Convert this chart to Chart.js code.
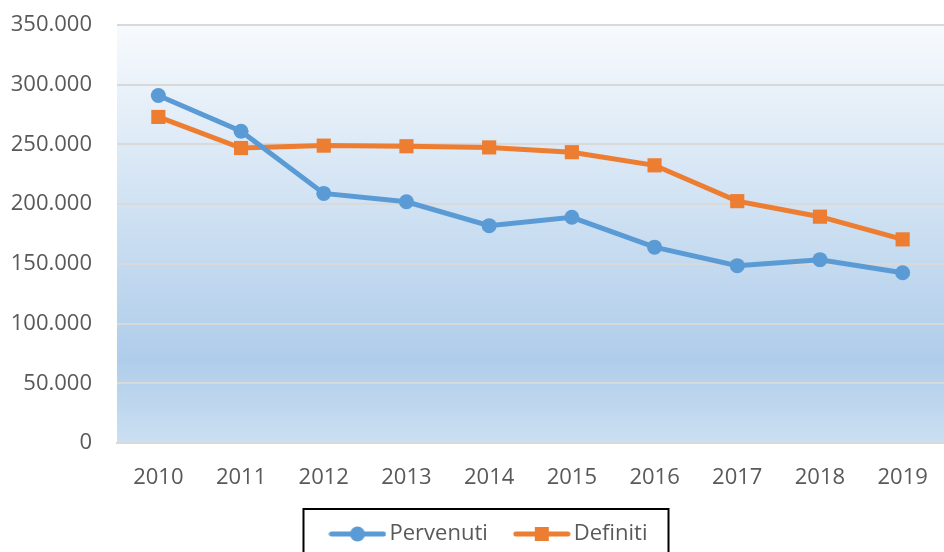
<!DOCTYPE html>
<html>
<head>
<meta charset="utf-8">
<script src="https://cdn.jsdelivr.net/npm/chart.js@4/dist/chart.umd.min.js"></script>
<style>
  html, body { margin: 0; padding: 0; background: #fff; overflow: hidden; }
  canvas { display: block; }
</style>
</head>
<body>
<canvas id="lineChart" width="944" height="552"></canvas>
<script>
// Dati
const anni = ['2010', '2011', '2012', '2013', '2014', '2015', '2016', '2017', '2018', '2019'];
const pervenuti = [291000, 261000, 209000, 202000, 182000, 189000, 164000, 148500, 153500, 142500];
const definiti = [273000, 247000, 249000, 248500, 247500, 243500, 232500, 202500, 189500, 170500];

const BLU = '#5b9bd5';
const ARANCIO = '#ed7d31';
const GRIGIO = '#595959';

// Simbolo legenda: linea + marcatore
function simbolo(colore, forma) {
    const c = document.createElement('canvas');
    c.width = 58;
    c.height = 18;
    const g = c.getContext('2d');
    g.strokeStyle = colore;
    g.lineWidth = 5;
    g.lineCap = 'round';
    g.beginPath();
    g.moveTo(3, 9);
    g.lineTo(55, 9);
    g.stroke();
    g.fillStyle = colore;
    if (forma === 'circle') {
        g.beginPath();
        g.arc(29, 9, 7.5, 0, Math.PI * 2);
        g.fill();
    } else {
        g.fillRect(22, 2, 14, 14);
    }
    return c;
}

// Sfondo sfumato dell'area del grafico
const sfondo = {
    id: 'sfondo',
    afterLayout(chart) {
        // sposta la legenda un po' a destra, come nell'originale
        chart.legend.left += 40;
    },
    beforeDraw(chart) {
        const { ctx, chartArea: a } = chart;
        const grad = ctx.createLinearGradient(0, a.top, 0, a.bottom);
        grad.addColorStop(0, '#f7fafd');
        grad.addColorStop(0.8, '#afcdea');
        grad.addColorStop(1, '#cbdff2');
        ctx.save();
        ctx.fillStyle = grad;
        ctx.fillRect(a.left, a.top, a.right - a.left, a.bottom - a.top);
        ctx.restore();
    }
};

// Cornice attorno alla legenda
const cornice = {
    id: 'cornice',
    afterDraw(chart) {
        const boxes = chart.legend.legendHitBoxes;
        if (!boxes || !boxes.length) return;
        const left = Math.min(...boxes.map(b => b.left));
        const right = Math.max(...boxes.map(b => b.left + b.width));
        const top = Math.min(...boxes.map(b => b.top));
        const ctx = chart.ctx;
        ctx.save();
        ctx.strokeStyle = '#000';
        ctx.lineWidth = 2;
        ctx.strokeRect(left - 33, top - 14, right - left + 54, 80);
        ctx.restore();
    }
};

function senzaPadding(scale) {
    scale.paddingLeft = 0;
    scale.paddingRight = 0;
    scale.paddingTop = 0;
    scale.paddingBottom = 0;
}

const ctx = document.getElementById('lineChart').getContext('2d');
new Chart(ctx, {
    type: 'line',
    data: {
        labels: anni,
        datasets: [{
            label: 'Pervenuti',
            data: pervenuti,
            borderColor: BLU,
            backgroundColor: BLU,
            borderWidth: 5,
            pointStyle: 'circle',
            pointRadius: 7.5,
            pointBorderWidth: 0,
            tension: 0
        }, {
            label: 'Definiti',
            data: definiti,
            borderColor: ARANCIO,
            backgroundColor: ARANCIO,
            borderWidth: 5,
            pointStyle: 'rect',
            pointRadius: 10,
            pointBorderWidth: 0,
            tension: 0
        }]
    },
    options: {
        responsive: false,
        maintainAspectRatio: false,
        animation: false,
        layout: { autoPadding: false, padding: { top: 25, right: 0, left: 0, bottom: -3 } },
        scales: {
            x: {
                offset: true,
                grid: { display: false, drawTicks: false },
                border: { display: true, color: '#d9d9d9', width: 2 },
                ticks: {
                    color: GRIGIO,
                    font: { family: 'Open Sans', size: 22 },
                    padding: 22,
                    maxRotation: 0
                },
                afterFit(scale) {
                    scale.height = 47;
                    senzaPadding(scale);
                }
            },
            y: {
                min: 0,
                max: 350000,
                grid: { color: '#d9d9d9', lineWidth: 2, drawTicks: false },
                border: { display: false },
                ticks: {
                    stepSize: 50000,
                    color: GRIGIO,
                    font: { family: 'Open Sans', size: 22 },
                    padding: 25,
                    callback: v => v.toLocaleString('it-IT')
                },
                afterFit(scale) {
                    scale.width = 117;
                    senzaPadding(scale);
                }
            }
        },
        plugins: {
            legend: {
                position: 'bottom',
                labels: {
                    usePointStyle: true,
                    pointStyleWidth: 42,
                    padding: 33,
                    color: GRIGIO,
                    font: { family: 'Open Sans', size: 22 },
                    generateLabels(chart) {
                        return chart.data.datasets.map((ds, i) => ({
                            text: ds.label,
                            fillStyle: ds.borderColor,
                            strokeStyle: ds.borderColor,
                            lineWidth: 0,
                            pointStyle: simbolo(ds.borderColor, i === 0 ? 'circle' : 'rect'),
                            fontColor: GRIGIO,
                            hidden: false,
                            datasetIndex: i
                        }));
                    }
                }
            },
            tooltip: { enabled: false }
        }
    },
    plugins: [sfondo, cornice]
});
</script>
</body>
</html>
